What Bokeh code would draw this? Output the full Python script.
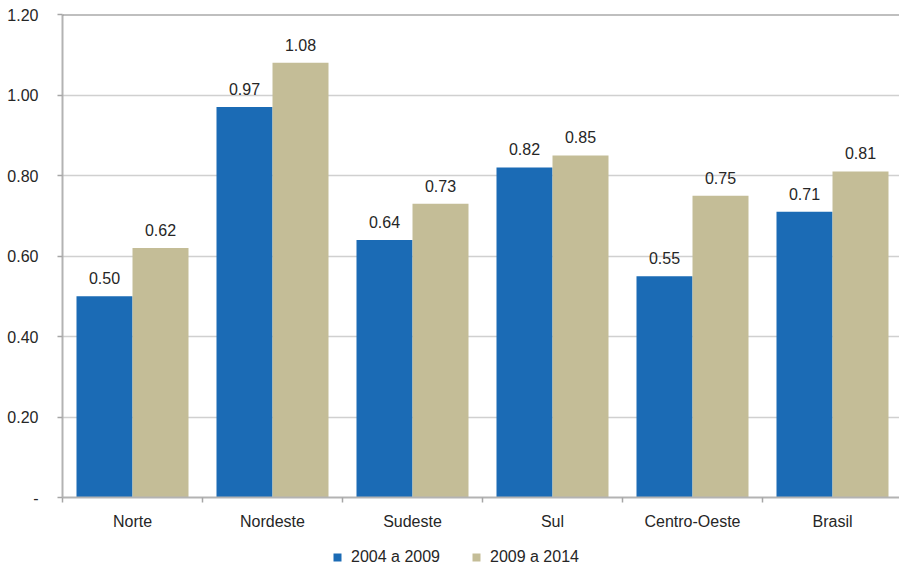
from bokeh.plotting import figure
from bokeh.layouts import column
from bokeh.models import Range1d, FixedTicker, Span, Legend, LegendItem, ColumnDataSource
from bokeh.core.properties import value
from bokeh.embed import file_html
from bokeh.resources import INLINE

categories = ["Norte", "Nordeste", "Sudeste", "Sul", "Centro-Oeste", "Brasil"]
series_names = ["2004 a 2009", "2009 a 2014"]
v_2004_2009 = [0.50, 0.97, 0.64, 0.82, 0.55, 0.71]
v_2009_2014 = [0.62, 1.08, 0.73, 0.85, 0.75, 0.81]
y_ticks = [0.0, 0.2, 0.4, 0.6, 0.8, 1.0, 1.2]
colors = ["#1b6bb5", "#c4bd97"]

FONT = "Liberation Sans"
TXT = "#262626"

n = len(categories)
p = figure(width=899, height=537, output_backend="svg", toolbar_location=None,
           x_range=Range1d(0, 837 / 140), y_range=Range1d(0, 1.2),
           min_border_left=62, min_border_right=0, min_border_top=14, min_border_bottom=40)
p.outline_line_color = None
p.background_fill_color = "white"
p.border_fill_color = "white"

for k, vals in enumerate([v_2004_2009, v_2009_2014]):
    xs = [i + 0.5 + (k - 0.5) * 0.4 for i in range(n)]
    src = ColumnDataSource(dict(x=xs, top=vals, lbl=[f"{v:.2f}" for v in vals]))
    p.vbar(x="x", top="top", width=0.4, bottom=0, source=src,
           fill_color=colors[k], line_color=None)
    p.text(x="x", y="top", text="lbl", source=src, text_align="center",
           text_baseline="alphabetic", y_offset=-18, text_font=value(FONT),
           text_font_size="16px", text_color=TXT)

# x axis
p.xaxis.ticker = FixedTicker(ticks=[i + 0.5 for i in range(n)],
                             minor_ticks=[float(i) for i in range(n + 1)])
p.xaxis.major_label_overrides = {i + 0.5: c for i, c in enumerate(categories)}
p.xaxis.major_tick_line_color = None
p.xaxis.major_tick_out = 0
p.xaxis.major_tick_in = 0
p.xaxis.minor_tick_out = 5
p.xaxis.minor_tick_in = 0
p.xaxis.minor_tick_line_color = "#a6a6a6"
p.xaxis.minor_tick_line_width = 1.5
p.xaxis.axis_line_color = "#b3b3b3"
p.xaxis.axis_line_width = 2
p.xaxis.major_label_standoff = 10
p.xaxis.major_label_text_font = FONT
p.xaxis.major_label_text_font_size = "16px"
p.xaxis.major_label_text_color = TXT
p.xgrid.grid_line_color = None

# y axis
p.yaxis.ticker = FixedTicker(ticks=y_ticks)
p.yaxis.major_label_overrides = {t: ("-" if t == 0 else f"{t:.2f}") for t in y_ticks}
p.yaxis.major_tick_out = 5
p.yaxis.major_tick_in = 0
p.yaxis.minor_tick_line_color = None
p.yaxis.major_tick_line_color = "#a6a6a6"
p.yaxis.major_tick_line_width = 1.5
p.yaxis.axis_line_color = "#b3b3b3"
p.yaxis.axis_line_width = 2
p.yaxis.major_label_standoff = 19
p.yaxis.major_label_text_font = FONT
p.yaxis.major_label_text_font_size = "16px"
p.yaxis.major_label_text_color = TXT
p.ygrid.ticker = FixedTicker(ticks=[t for t in y_ticks if 0 < t < 1.2])
p.ygrid.grid_line_color = "#d0d0d0"
p.ygrid.grid_line_width = 1.5

p.add_layout(Span(location=y_ticks[-1], dimension="width", line_color="#808080", line_width=2))

# legend strip (its swatch renderers sit outside the visible range)
p2 = figure(width=899, height=30, output_backend="svg", toolbar_location=None,
            x_axis_type=None, y_axis_type=None, min_border=0,
            x_range=Range1d(0, 1), y_range=Range1d(0, 1))
p2.outline_line_color = None
p2.xgrid.grid_line_color = None
p2.ygrid.grid_line_color = None
leg_renderers = [p2.vbar(x=[-1.0], top=[0.0], width=0.1, fill_color=colors[k], line_color=None)
                 for k in range(2)]
legend = Legend(items=[LegendItem(label=series_names[k], renderers=[leg_renderers[k]]) for k in range(2)],
                orientation="horizontal", location=(270, 1),
                glyph_width=10, glyph_height=10, label_height=10, label_standoff=9,
                spacing=31, padding=0, margin=0, border_line_color=None,
                background_fill_alpha=0, label_text_font=FONT, label_text_font_size="16px",
                label_text_color=TXT)
p2.add_layout(legend, "center")

open("out.html", "w").write(file_html(column(p, p2, spacing=0), INLINE))
